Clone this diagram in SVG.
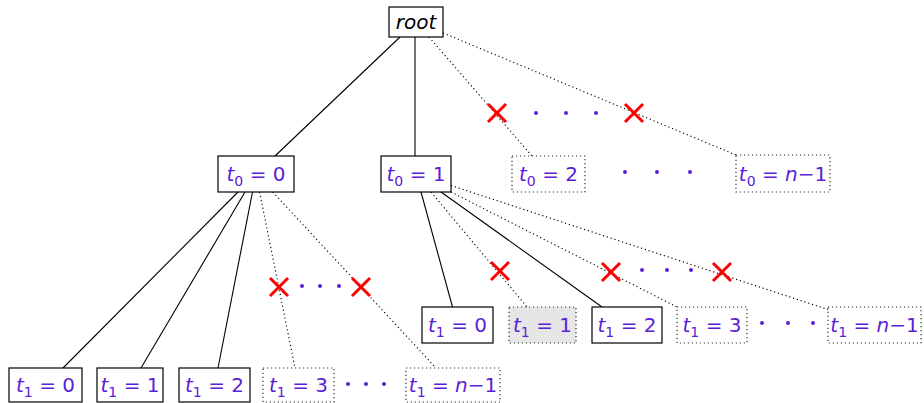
<svg xmlns="http://www.w3.org/2000/svg" width="924" height="403" viewBox="0 0 924 403">
<style>
.box{fill:#fff;stroke:#000;stroke-width:1.2}
.dbox{fill:#fff;stroke:#333;stroke-width:1.2;stroke-dasharray:1.2 2.8}
.gbox{fill:#e6e6e6;stroke:#333;stroke-width:1.2;stroke-dasharray:1.2 2.8}
.lbl{font-family:"DejaVu Sans",sans-serif;font-size:20px;fill:#5b21d6;text-anchor:middle}
.it{font-style:italic}
.sub{font-size:14px}
.e{stroke:#000;stroke-width:1.1;fill:none}
.d{stroke:#000;stroke-width:1.1;fill:none;stroke-dasharray:1.2 2.8}
.x{stroke:#f00;stroke-width:3;fill:none}
.dot{fill:#5b21d6}
</style>
<g id="connectors">
<line class="e" x1="400" y1="37" x2="275" y2="156"/>
<line class="e" x1="415" y1="37" x2="415" y2="156"/>
<line class="d" x1="429" y1="37" x2="532" y2="156"/>
<line class="d" x1="443" y1="33" x2="736" y2="155"/>
<line class="e" x1="238" y1="192" x2="63" y2="368"/>
<line class="e" x1="245" y1="192" x2="141" y2="368"/>
<line class="e" x1="252.5" y1="192" x2="218" y2="368"/>
<line class="d" x1="259.6" y1="192" x2="295" y2="368"/>
<line class="d" x1="272.7" y1="192" x2="436" y2="368"/>
<line class="e" x1="421" y1="192" x2="452.5" y2="307"/>
<line class="d" x1="431" y1="192" x2="527" y2="307"/>
<line class="e" x1="441" y1="192" x2="602" y2="307"/>
<line class="d" x1="451" y1="192" x2="677" y2="307"/>
<line class="d" x1="451" y1="185.5" x2="828" y2="309.5"/>
</g>
<g id="marks">
<path class="x" d="M488 104L506 122M506 104L488 122"/>
<path class="x" d="M625 104L643 122M643 104L625 122"/>
<path class="x" d="M491 262L509 280M509 262L491 280"/>
<path class="x" d="M602 263L620 281M620 263L602 281"/>
<path class="x" d="M713 263L731 281M731 263L713 281"/>
<path class="x" d="M270 278L288 296M288 278L270 296"/>
<path class="x" d="M352 278L370 296M370 278L352 296"/>
<circle class="dot" cx="536" cy="113" r="2"/><circle class="dot" cx="566" cy="113" r="2"/><circle class="dot" cx="596" cy="113" r="2"/>
<circle class="dot" cx="625" cy="172" r="2"/><circle class="dot" cx="657" cy="172" r="2"/><circle class="dot" cx="690" cy="172" r="2"/>
<circle class="dot" cx="642" cy="270" r="2"/><circle class="dot" cx="667" cy="270" r="2"/><circle class="dot" cx="691" cy="270" r="2"/>
<circle class="dot" cx="762" cy="323" r="2"/><circle class="dot" cx="788" cy="323" r="2"/><circle class="dot" cx="813" cy="323" r="2"/>
<circle class="dot" cx="302" cy="286" r="2"/><circle class="dot" cx="320" cy="286" r="2"/><circle class="dot" cx="339" cy="286" r="2"/>
<circle class="dot" cx="348" cy="384" r="2"/><circle class="dot" cx="366" cy="384" r="2"/><circle class="dot" cx="384" cy="384" r="2"/>
</g>
<g id="root"><rect class="box" x="389" y="7" width="54" height="30"/><text class="lbl it" x="416" y="29" fill="#000" style="fill:#000">root</text></g>
<g id="n_t0_0"><rect class="box" x="218" y="156" width="76" height="36"/><text class="lbl" x="256" y="181"><tspan class="it">t</tspan><tspan class="sub" dy="5">0</tspan><tspan dy="-5"> = 0</tspan></text></g>
<g id="n_t0_1"><rect class="box" x="381" y="156" width="70" height="36"/><text class="lbl" x="416" y="181"><tspan class="it">t</tspan><tspan class="sub" dy="5">0</tspan><tspan dy="-5"> = 1</tspan></text></g>
<g id="n_t0_2"><rect class="dbox" x="512" y="156" width="73" height="36"/><text class="lbl" x="548.5" y="181"><tspan class="it">t</tspan><tspan class="sub" dy="5">0</tspan><tspan dy="-5"> = 2</tspan></text></g>
<g id="n_t0_n1"><rect class="dbox" x="736" y="155" width="94" height="37"/><text class="lbl" x="783" y="181"><tspan class="it">t</tspan><tspan class="sub" dy="5">0</tspan><tspan dy="-5"> = </tspan><tspan class="it">n</tspan><tspan>−1</tspan></text></g>
<g id="n_b_t1_0"><rect class="box" x="422" y="307" width="71" height="36"/><text class="lbl" x="457.5" y="332"><tspan class="it">t</tspan><tspan class="sub" dy="5">1</tspan><tspan dy="-5"> = 0</tspan></text></g>
<g id="n_b_t1_1"><rect class="gbox" x="509" y="307" width="67" height="36"/><text class="lbl" x="542.5" y="332"><tspan class="it">t</tspan><tspan class="sub" dy="5">1</tspan><tspan dy="-5"> = 1</tspan></text></g>
<g id="n_b_t1_2"><rect class="box" x="592" y="307" width="70" height="36"/><text class="lbl" x="627" y="332"><tspan class="it">t</tspan><tspan class="sub" dy="5">1</tspan><tspan dy="-5"> = 2</tspan></text></g>
<g id="n_b_t1_3"><rect class="dbox" x="677" y="307" width="70" height="36"/><text class="lbl" x="712" y="332"><tspan class="it">t</tspan><tspan class="sub" dy="5">1</tspan><tspan dy="-5"> = 3</tspan></text></g>
<g id="n_b_t1_n1"><rect class="dbox" x="828" y="307" width="93" height="36"/><text class="lbl" x="874.5" y="332"><tspan class="it">t</tspan><tspan class="sub" dy="5">1</tspan><tspan dy="-5"> = </tspan><tspan class="it">n</tspan><tspan>−1</tspan></text></g>
<g id="n_a_t1_0"><rect class="box" x="9" y="368" width="73" height="34"/><text class="lbl" x="45.5" y="392"><tspan class="it">t</tspan><tspan class="sub" dy="5">1</tspan><tspan dy="-5"> = 0</tspan></text></g>
<g id="n_a_t1_1"><rect class="box" x="97" y="368" width="66" height="34"/><text class="lbl" x="130" y="392"><tspan class="it">t</tspan><tspan class="sub" dy="5">1</tspan><tspan dy="-5"> = 1</tspan></text></g>
<g id="n_a_t1_2"><rect class="box" x="179" y="368" width="71" height="34"/><text class="lbl" x="214.5" y="392"><tspan class="it">t</tspan><tspan class="sub" dy="5">1</tspan><tspan dy="-5"> = 2</tspan></text></g>
<g id="n_a_t1_3"><rect class="dbox" x="263" y="368" width="71" height="34"/><text class="lbl" x="298.5" y="392"><tspan class="it">t</tspan><tspan class="sub" dy="5">1</tspan><tspan dy="-5"> = 3</tspan></text></g>
<g id="n_a_t1_n1"><rect class="dbox" x="406" y="368" width="94" height="34"/><text class="lbl" x="453" y="392"><tspan class="it">t</tspan><tspan class="sub" dy="5">1</tspan><tspan dy="-5"> = </tspan><tspan class="it">n</tspan><tspan>−1</tspan></text></g>
</svg>
